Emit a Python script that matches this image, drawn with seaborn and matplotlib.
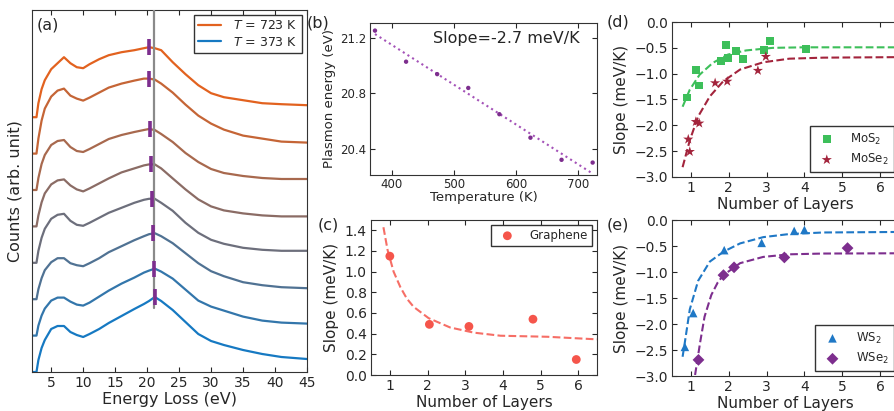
import numpy as np
import matplotlib
matplotlib.use("Agg")
import matplotlib.pyplot as plt
import seaborn as sns
from matplotlib.colors import to_rgb

# ---------------- data ----------------
# (a) EELS spectra, heights above each curve's own baseline (arb. units)
energy = [2.0, 2.7, 3.0, 3.5, 4.0, 5.0, 6.0, 7.0, 8.0, 9.0, 10.0, 11.0, 12.5, 14.0,
          16.0, 18.0, 19.5, 20.3, 21.2, 22.2, 24.0, 26.0, 28.0, 30.0, 32.0, 35.0,
          38.0, 41.0, 45.0]
spec_373 = [0, 0, 12, 24, 32, 43, 46, 46, 40, 37, 35, 38, 43, 49, 56, 63, 68, 71, 75, 71, 62, 50, 38, 31, 27, 22, 18, 15, 13]
spec_423 = [0, 0, 10, 20, 27, 35, 38, 38, 34, 31, 30, 33, 39, 45, 52, 58, 63, 65, 67, 64, 57, 46, 35, 29, 25, 19, 15, 13, 12]
spec_473 = [0, 0, 10, 21, 29, 37, 41, 41, 36, 34, 33, 36, 41, 47, 53, 59, 63, 65, 66, 63, 56, 46, 36, 28, 23, 17, 14, 12, 11]
spec_523 = [0, 0, 12, 25, 34, 44, 48, 49, 42, 38, 37, 40, 45, 50, 55, 60, 63, 64, 64, 60, 52, 40, 30, 23, 19, 15, 13, 12, 12]
spec_573 = [0, 0, 11, 24, 33, 42, 46, 47, 41, 37, 35, 38, 43, 48, 54, 58, 61, 62, 62, 58, 48, 37, 27, 20, 16, 13, 11, 10, 10]
spec_623 = [0, 0, 12, 26, 35, 45, 49, 50, 43, 39, 38, 41, 46, 51, 55, 58, 60, 61, 60, 56, 48, 37, 28, 21, 17, 14, 12, 11, 11]
spec_673 = [0, 0, 15, 33, 45, 57, 63, 65, 58, 55, 53, 56, 61, 66, 70, 73, 75, 75, 74, 70, 61, 49, 38, 30, 24, 18, 15, 12, 11]
spec_723 = [0, 0, 14, 28, 37, 48, 54, 60, 54, 50, 49, 53, 58, 62, 65, 67, 69, 70, 69, 67, 55, 43, 32, 24, 20, 17, 14, 13, 12]
spectra = [spec_373, spec_423, spec_473, spec_523, spec_573, spec_623, spec_673, spec_723]

# (b) plasmon energy vs temperature
temperature = [373, 423, 473, 523, 573, 623, 673, 723]
plasmon = [21.255, 21.03, 20.94, 20.84, 20.65, 20.48, 20.32, 20.30]
fit_b_T = [373, 723]
fit_b_E = [21.23, 20.22]

# (c) graphene
gr_layers = [1.0, 2.05, 3.1, 4.8, 5.95]
gr_slope = [1.15, 0.49, 0.47, 0.54, 0.15]
fit_gr_x = [0.83, 0.94, 1.1, 1.28, 1.45, 1.63, 2.03, 2.6, 3.23, 3.94, 5.18, 6.5]
fit_gr_y = [1.43, 1.21, 1.0, 0.85, 0.74, 0.66, 0.55, 0.46, 0.41, 0.38, 0.37, 0.345]

# (d) MoS2 / MoSe2
mos2_layers = [0.89, 1.13, 1.22, 1.80, 1.93, 1.97, 2.19, 2.37, 2.93, 3.09, 4.05]
mos2_slope = [-1.46, -0.935, -1.23, -0.76, -0.45, -0.69, -0.56, -0.71, -0.55, -0.36, -0.52]
mose2_layers = [0.93, 0.97, 1.13, 1.22, 1.64, 1.96, 2.77, 2.98]
mose2_slope = [-2.27, -2.51, -1.93, -1.96, -1.18, -1.15, -0.94, -0.67]
fit_mos2_x = [0.78, 0.97, 1.23, 1.58, 1.98, 2.46, 3.17, 4.0, 6.5]
fit_mos2_y = [-1.64, -1.31, -1.02, -0.79, -0.63, -0.55, -0.50, -0.49, -0.49]
fit_mose2_x = [0.78, 0.97, 1.19, 1.5, 1.85, 2.3, 2.91, 3.6, 4.5, 6.5]
fit_mose2_y = [-2.81, -2.29, -1.83, -1.44, -1.15, -0.92, -0.78, -0.71, -0.69, -0.68]

# (e) WS2 / WSe2
ws2_layers = [0.84, 1.06, 1.88, 2.87, 3.73, 4.0]
ws2_slope = [-2.44, -1.79, -0.58, -0.44, -0.21, -0.19]
wse2_layers = [1.2, 1.86, 2.14, 3.47, 5.14]
wse2_slope = [-2.69, -1.06, -0.91, -0.72, -0.54]
fit_ws2_x = [0.78, 0.84, 0.97, 1.19, 1.5, 1.86, 2.3, 2.91, 3.6, 4.5, 6.5]
fit_ws2_y = [-2.63, -2.35, -1.72, -1.17, -0.80, -0.61, -0.45, -0.33, -0.27, -0.24, -0.23]
fit_wse2_x = [1.11, 1.24, 1.36, 1.54, 1.71, 1.86, 2.3, 2.91, 3.6, 4.5, 6.5]
fit_wse2_y = [-2.98, -2.37, -1.86, -1.44, -1.20, -1.06, -0.83, -0.71, -0.66, -0.645, -0.64]

# ---------------- style ----------------
sns.set_style("ticks", {"xtick.direction": "in", "ytick.direction": "in",
                        "xtick.top": True, "ytick.right": True,
                        "axes.edgecolor": "#333333"})
plt.rcParams["font.family"] = ["DejaVu Sans"]
plt.rcParams["legend.fancybox"] = False
plt.rcParams["legend.edgecolor"] = "#333333"
plt.rcParams["legend.framealpha"] = 1

orange = "#e2621f"
blue = "#1679c2"
purple = "#7d2e8e"
W, H = 894, 411

fig = plt.figure(figsize=(8.94, 4.11), dpi=100)


def px_axes(left, right, top, bottom):
    return fig.add_axes([left / W, 1 - bottom / H, (right - left) / W, (bottom - top) / H])


# ---------------- (a) ----------------
ax = px_axes(32, 307, 10, 372)
step = 36.4
c0, c1 = np.array(to_rgb(blue)), np.array(to_rgb(orange))
for i in range(len(spectra) - 1, -1, -1):
    col = tuple(c0 + (c1 - c0) * i / (len(spectra) - 1))
    y = np.array(spectra[i]) + i * step
    lab = None
    if i == len(spectra) - 1 or i == 0:
        lab = "$T$ = %d K" % temperature[i]
    sns.lineplot(x=energy, y=y, ax=ax, color=col, lw=1.6, label=lab, legend=False)
ax.axvline(21.1, ymin=0.177, ymax=1, color="#8a8a8a", lw=1.6, zorder=4)
for i, ep in enumerate(plasmon):
    yy = np.interp(ep, energy, spectra[i]) + i * step
    ax.plot(ep, yy, marker="|", ms=12, mew=2.6, color=purple, zorder=5)
ax.set_xlim(2, 45)
ax.set_ylim(0, 362)
ax.set_xticks(range(5, 46, 5))
ax.set_yticks([])
ax.tick_params(labelsize=10, pad=3)
ax.set_xlabel("Energy Loss (eV)", fontsize=11.5, labelpad=1)
ax.set_ylabel("Counts (arb. unit)", fontsize=11.5, labelpad=7)
h, l = ax.get_legend_handles_labels()
ax.legend(h, l, loc="upper right", fontsize=9, handlelength=1.8, handletextpad=1.0,
          borderpad=0.35, labelspacing=0.25, borderaxespad=0.4)
ax.text(0.058, 0.958, "(a)", transform=ax.transAxes, fontsize=11.5, ha="center", va="center")

# ---------------- (b) ----------------
ax = px_axes(370, 597, 23, 175)
sns.lineplot(x=fit_b_T, y=fit_b_E, ax=ax, color="#a452b8", lw=1.5, ls=":")
sns.scatterplot(x=temperature, y=plasmon, ax=ax, color=purple, s=10, edgecolor="none", zorder=5)
ax.set_xlim(365, 730)
ax.set_ylim(20.21, 21.31)
ax.set_xticks([400, 500, 600, 700])
ax.set_yticks([20.4, 20.8, 21.2])
ax.tick_params(labelsize=8.5, pad=2.5)
ax.set_xlabel("Temperature (K)", fontsize=9.5, labelpad=0)
ax.set_ylabel("Plasmon energy (eV)", fontsize=9.5, labelpad=3)
ax.text(0.278, 0.9, "Slope=-2.7 meV/K", transform=ax.transAxes, fontsize=11.5, ha="left", va="center")

# ---------------- (c) ----------------
red = "#f5554b"
ax = px_axes(371, 597, 220, 375)
sns.lineplot(x=fit_gr_x, y=fit_gr_y, ax=ax, color=red, lw=1.5, ls="--", alpha=0.85, sort=False)
sns.scatterplot(x=gr_layers, y=gr_slope, ax=ax, color=red, s=40, edgecolor="none",
                label="Graphene", zorder=5)
ax.set_xlim(0.5, 6.5)
ax.set_ylim(0, 1.5)
ax.set_xticks(range(1, 7))
ax.set_yticks(np.arange(0, 1.41, 0.2))
ax.tick_params(labelsize=10, pad=3)
ax.set_xlabel("Number of Layers", fontsize=11, labelpad=1)
ax.set_ylabel("Slope (meV/K)", fontsize=11)
ax.legend(loc="upper right", fontsize=8.5, handletextpad=0.9, borderpad=0.35,
          borderaxespad=0.4)

# ---------------- (d) ----------------
green = "#3dbf5a"
dred = "#a3243c"
ax = px_axes(672, 899, 22, 177)
sns.lineplot(x=fit_mos2_x, y=fit_mos2_y, ax=ax, color=green, lw=1.5, ls="--", sort=False)
sns.lineplot(x=fit_mose2_x, y=fit_mose2_y, ax=ax, color=dred, lw=1.5, ls="--", sort=False)
sns.scatterplot(x=mos2_layers, y=mos2_slope, ax=ax, color=green, marker="s", s=32,
                edgecolor="none", label="MoS$_2$", zorder=5)
sns.scatterplot(x=mose2_layers, y=mose2_slope, ax=ax, color=dred, marker="*", s=60,
                edgecolor="none", label="MoSe$_2$", zorder=5)
ax.set_xlim(0.5, 6.5)
ax.set_ylim(-3, 0)
ax.set_xticks(range(1, 7))
ax.set_yticks(np.arange(-3, 0.01, 0.5))
ax.tick_params(labelsize=10, pad=3)
ax.set_xlabel("Number of Layers", fontsize=11, labelpad=1)
ax.set_ylabel("Slope (meV/K)", fontsize=11)
ax.legend(loc="lower right", fontsize=8.5, handletextpad=1.0, borderpad=0.45,
          labelspacing=0.45, borderaxespad=0.4)

# ---------------- (e) ----------------
wblue = "#1f78c6"
ax = px_axes(672, 899, 220, 376)
sns.lineplot(x=fit_ws2_x, y=fit_ws2_y, ax=ax, color=wblue, lw=1.5, ls="--", sort=False)
sns.lineplot(x=fit_wse2_x, y=fit_wse2_y, ax=ax, color=purple, lw=1.5, ls="--", sort=False)
sns.scatterplot(x=ws2_layers, y=ws2_slope, ax=ax, color=wblue, marker="^", s=38,
                edgecolor="none", label="WS$_2$", zorder=5)
sns.scatterplot(x=wse2_layers, y=wse2_slope, ax=ax, color=purple, marker="D", s=36,
                edgecolor="none", label="WSe$_2$", zorder=5)
ax.set_xlim(0.5, 6.5)
ax.set_ylim(-3, 0)
ax.set_xticks(range(1, 7))
ax.set_yticks(np.arange(-3, 0.01, 0.5))
ax.tick_params(labelsize=10, pad=3)
ax.set_xlabel("Number of Layers", fontsize=11, labelpad=1)
ax.set_ylabel("Slope (meV/K)", fontsize=11)
ax.legend(loc="lower right", fontsize=8.5, handletextpad=1.0, borderpad=0.45,
          labelspacing=0.45, borderaxespad=0.4)

# panel letters
fig.text(318 / W, 1 - 23 / H, "(b)", fontsize=11.5, ha="center", va="center")
fig.text(328 / W, 1 - 225 / H, "(c)", fontsize=11.5, ha="center", va="center")
fig.text(618 / W, 1 - 22 / H, "(d)", fontsize=11.5, ha="center", va="center")
fig.text(618 / W, 1 - 225 / H, "(e)", fontsize=11.5, ha="center", va="center")

fig.savefig("out.png", dpi=100)
